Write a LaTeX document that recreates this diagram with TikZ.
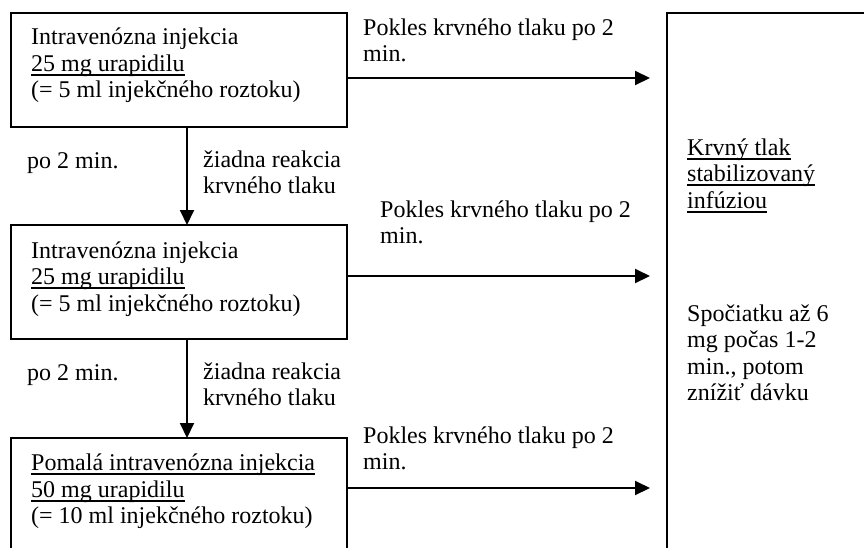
\documentclass[tikz,border=0pt]{standalone}
\usepackage{fontspec}
\setmainfont{Liberation Serif}
\usetikzlibrary{arrows.meta}
\newcommand\myul[1]{\setbox0\hbox{#1}\rlap{\rule[-4.5pt]{\wd0}{1.8pt}}\box0}
\begin{document}
\begin{tikzpicture}[x=1pt,y=-1pt,
  box/.style={draw,line width=2pt,inner sep=0pt,outer sep=0pt,anchor=north west},
  txt/.style={inner sep=0pt,anchor=base west,align=left,font=\fontsize{24pt}{26.5pt}\selectfont},
  arr/.style={line width=2pt,-{Triangle[length=15pt,width=14pt]}}]
\useasboundingbox (0,0) rectangle (864,547);
\clip (0,0) rectangle (864,547);
% boxes
\node[box,minimum width=336pt,minimum height=114pt] (b1) at (11,13) {};
\node[box,minimum width=336pt,minimum height=114pt] (b2) at (11,225) {};
\node[box,minimum width=336pt,minimum height=150pt] (b3) at (11,438) {};
\node[box,minimum width=250pt,minimum height=560pt] (rb) at (667,13) {};
% box texts (anchor = baseline of last line)
\node[txt] (t1) at (31,97.5) {Intravenózna injekcia\\\myul{25 mg urapidilu}\\(= 5 ml injekčného roztoku)};
\node[txt] (t2) at (31,311) {Intravenózna injekcia\\\myul{25 mg urapidilu}\\(= 5 ml injekčného roztoku)};
\node[txt] (t3) at (31,523.5) {\myul{Pomalá intravenózna injekcia}\\\myul{50 mg urapidilu}\\(= 10 ml injekčného roztoku)};
% vertical connectors
\coordinate (vx) at (187,0);
\draw[arr] (b1.south -| vx) -- (b2.north -| vx);
\draw[arr] (b2.south -| vx) -- (b3.north -| vx);
\node[txt] (p1) at (27,168) {po 2 min.};
\node[txt] (z1) at (203,193.5) {žiadna reakcia\\krvného tlaku};
\node[txt] (p2) at (27,380) {po 2 min.};
\node[txt] (z2) at (203,405.5) {žiadna reakcia\\krvného tlaku};
% horizontal connectors
\coordinate (h1) at (0,78);
\coordinate (h2) at (0,276);
\coordinate (h3) at (0,488);
\draw[arr,shorten >=17pt] (b1.east |- h1) -- (rb.west |- h1);
\draw[arr,shorten >=17pt] (b2.east |- h2) -- (rb.west |- h2);
\draw[arr,shorten >=17pt] (b3.east |- h3) -- (rb.west |- h3);
\node[txt] (l1) at (363,61.5) {Pokles krvného tlaku po 2\\min.};
\node[txt] (l2) at (380,243.5) {Pokles krvného tlaku po 2\\min.};
\node[txt] (l3) at (363,469.5) {Pokles krvného tlaku po 2\\min.};
% right box texts
\node[txt] (r1) at (687,208) {\myul{Krvný tlak}\\\myul{stabilizovaný}\\\myul{infúziou}};
\node[txt] (r2) at (687,400.5) {Spočiatku až 6\\mg počas 1-2\\min., potom\\znížiť dávku};
\end{tikzpicture}
\end{document}
